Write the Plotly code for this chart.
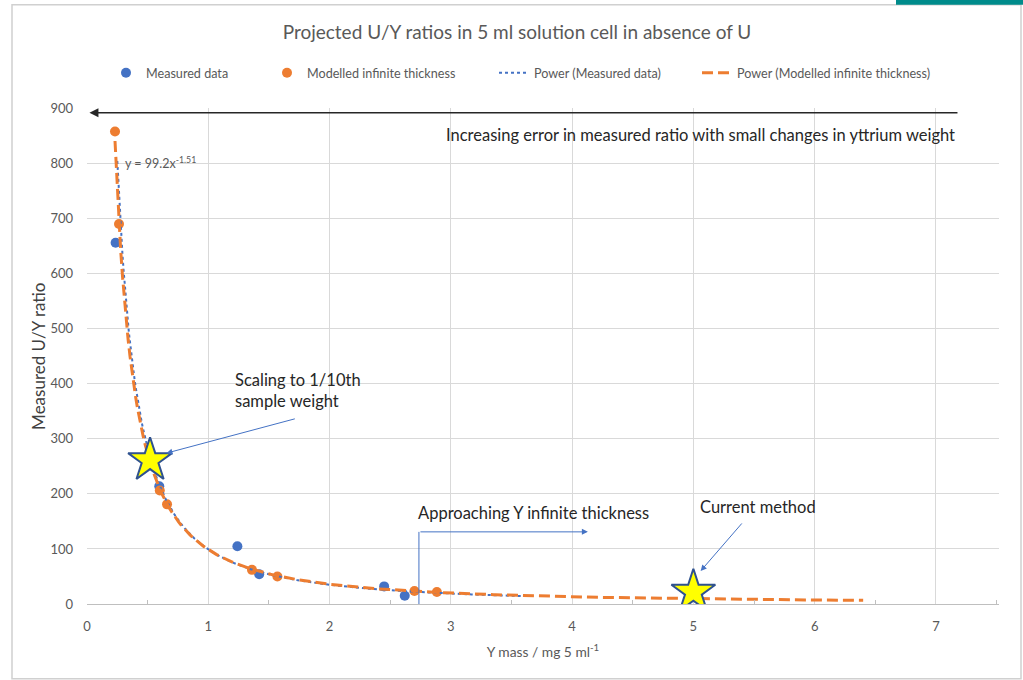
import numpy as np
import plotly.graph_objects as go

# Measured U/Y ratios against yttrium mass (mg per 5 ml)
measured_x = [0.236, 0.596, 1.24, 1.42, 2.45, 2.62]
measured_y = [656, 214, 105, 54, 32, 15]

# Modelled infinite-thickness ratios
modelled_x = [0.231, 0.264, 0.60, 0.66, 1.36, 1.57, 2.70, 2.885]
modelled_y = [858, 690, 206, 181, 62, 50, 23.5, 21.7]

# Power trendlines y = a * x^b
measured_fit = {"a": 99.2, "b": -1.51, "x_from": 0.25, "x_to": 3.6}
modelled_fit = {"a": 99.0, "b": -1.46, "x_from": 0.231, "x_to": 6.4}

# Highlighted operating points
star_x = [0.52, 5.0]
star_y = [261, 22]

x_ticks = [0, 1, 2, 3, 4, 5, 6, 7]
y_ticks = [0, 100, 200, 300, 400, 500, 600, 700, 800, 900]

FONT = "Lato, 'Open Sans', sans-serif"
GREY_TEXT = "#595959"
DARK_TEXT = "#262626"
GRID = "#d9d9d9"
BLUE = "#4472C4"
ORANGE = "#ED7D31"

W, H = 1023, 680
M_L, M_R, M_T, M_B = 87, 24, 107, 76
PLOT_W = W - M_L - M_R
PLOT_H = H - M_T - M_B


def power_curve(fit, n=400):
    xs = np.linspace(fit["x_from"], fit["x_to"], n)
    return xs, fit["a"] * xs ** fit["b"]


def px_to_paper_x(px):
    return (px - M_L) / PLOT_W


def px_to_paper_y(py):
    return (H - M_B - py) / PLOT_H


fig = go.Figure()

fig.add_trace(go.Scatter(
    x=measured_x, y=measured_y, mode="markers", name="Measured data",
    marker=dict(color=BLUE, size=10), legend="legend",
))
fig.add_trace(go.Scatter(
    x=modelled_x, y=modelled_y, mode="markers", name="Modelled infinite thickness",
    marker=dict(color=ORANGE, size=10), legend="legend2",
))

mx, my = power_curve(measured_fit)
fig.add_trace(go.Scatter(
    x=mx, y=my, mode="lines", name="Power (Measured data)",
    line=dict(color=BLUE, width=2, dash="dot"), legend="legend3",
))
ox, oy = power_curve(modelled_fit)
fig.add_trace(go.Scatter(
    x=ox, y=oy, mode="lines", name="Power (Modelled infinite thickness)",
    line=dict(color=ORANGE, width=3, dash="11px,5px"), legend="legend4",
))

fig.add_trace(go.Scatter(
    x=star_x, y=star_y, mode="markers", showlegend=False,
    marker=dict(symbol="star", size=33, color="#FFFF00",
                line=dict(color="#2F528F", width=2)),
))

ANN_FONT = dict(size=16.5, color=DARK_TEXT, family=FONT)

annotations = [
    # long arrow across the top of the plot
    dict(x=0.02, y=892, ax=7.19, ay=892, xref="x", yref="y", axref="x", ayref="y",
         text="", showarrow=True, arrowhead=2, arrowsize=1.2, arrowwidth=1.5,
         arrowcolor=DARK_TEXT),
    dict(x=2.94, y=852, xref="x", yref="y",
         text="Increasing error in measured ratio with small changes in yttrium weight",
         showarrow=False, xanchor="left", yanchor="middle", font=ANN_FONT),
    dict(x=0.30, y=801, xref="x", yref="y",
         text=f"y = {measured_fit['a']}x<sup>{measured_fit['b']}</sup>",
         showarrow=False, xanchor="left", yanchor="middle",
         font=dict(size=12.5, color=GREY_TEXT, family=FONT)),
    dict(x=1.207, y=388, xref="x", yref="y", text="Scaling to 1/10th<br>sample weight",
         showarrow=False, xanchor="left", yanchor="middle", align="left", font=ANN_FONT),
    dict(x=0.655, y=274, ax=1.726, ay=337, xref="x", yref="y", axref="x", ayref="y",
         text="", showarrow=True, arrowhead=2, arrowsize=1.2, arrowwidth=1,
         arrowcolor=BLUE),
    dict(x=2.715, y=165, xref="x", yref="y", text="Approaching Y infinite thickness",
         showarrow=False, xanchor="left", yanchor="middle", font=ANN_FONT),
    dict(x=4.13, y=131, ax=2.737, ay=131, xref="x", yref="y", axref="x", ayref="y",
         text="", showarrow=True, arrowhead=2, arrowsize=1.2, arrowwidth=1,
         arrowcolor=BLUE),
    dict(x=5.04, y=176, xref="x", yref="y", text="Current method",
         showarrow=False, xanchor="left", yanchor="middle", font=ANN_FONT),
    dict(x=5.06, y=60, ax=5.41, ay=149, xref="x", yref="y", axref="x", ayref="y",
         text="", showarrow=True, arrowhead=2, arrowsize=1.2, arrowwidth=1,
         arrowcolor=BLUE),
]

shapes = [
    # bracket riser marking the onset of infinite thickness
    dict(type="line", xref="x", yref="y", x0=2.737, x1=2.737, y0=-5, y1=131,
         line=dict(color=BLUE, width=1)),
    # outer chart frame
    dict(type="rect", xref="paper", yref="paper",
         x0=px_to_paper_x(12), x1=px_to_paper_x(1021),
         y0=px_to_paper_y(679), y1=px_to_paper_y(3),
         line=dict(color="#d0d0d0", width=1.5), layer="below"),
    # accent bar at the top right
    dict(type="rect", xref="paper", yref="paper",
         x0=px_to_paper_x(896), x1=px_to_paper_x(1030),
         y0=px_to_paper_y(3), y1=px_to_paper_y(-2),
         line=dict(width=0), fillcolor="#008B8B"),
]

LEGEND_FONT = dict(size=12.6, color=GREY_TEXT, family=FONT)


def legend_at(left_px):
    # one single-entry legend per series, placed along the header row
    return dict(orientation="h", x=left_px / W, xanchor="left",
                xref="container", y=1 - 73 / H, yanchor="middle", yref="container",
                font=LEGEND_FONT, itemwidth=30, bgcolor="rgba(0,0,0,0)")


fig.update_layout(
    width=W, height=H,
    margin=dict(l=M_L, r=M_R, t=M_T, b=M_B),
    paper_bgcolor="white", plot_bgcolor="white",
    font=dict(family=FONT, color=GREY_TEXT),
    title=dict(text="Projected U/Y ratios in 5 ml solution cell in absence of U",
               x=517 / W, xanchor="center", xref="container", y=1 - 32 / H,
               yanchor="middle",
               font=dict(size=19, color=GREY_TEXT, family=FONT)),
    legend=legend_at(106),
    legend2=legend_at(267),
    legend3=legend_at(494),
    legend4=legend_at(697),
    annotations=annotations,
    shapes=shapes,
    showlegend=True,
)

fig.update_xaxes(
    range=[0, 7.52], tickvals=x_ticks, ticktext=[str(t) for t in x_ticks],
    showgrid=True, gridcolor=GRID, gridwidth=1,
    zeroline=False, showline=True, linecolor="#bfbfbf", linewidth=1,
    ticks="", ticklabelstandoff=10,
    tickfont=dict(size=13, color=GREY_TEXT, family=FONT),
    minor=dict(tickvals=[0.5, 1.5, 2.5, 3.5, 4.5, 5.5, 6.5, 7.5], ticks="inside",
               ticklen=4, tickcolor="#bfbfbf", showgrid=False),
    title=dict(text="Y mass / mg 5 ml<sup>-1</sup>", standoff=14,
               font=dict(size=13.8, color=GREY_TEXT, family=FONT)),
)
fig.update_yaxes(
    range=[0, 900], tickvals=y_ticks,
    showgrid=True, gridcolor=GRID, gridwidth=1,
    zeroline=False, showline=False, ticks="", ticklabelstandoff=13,
    tickfont=dict(size=13, color=GREY_TEXT, family=FONT),
    title=dict(text="Measured U/Y ratio", standoff=0,
               font=dict(size=17, color="#404040", family=FONT)),
)

fig.write_html("out.html")
